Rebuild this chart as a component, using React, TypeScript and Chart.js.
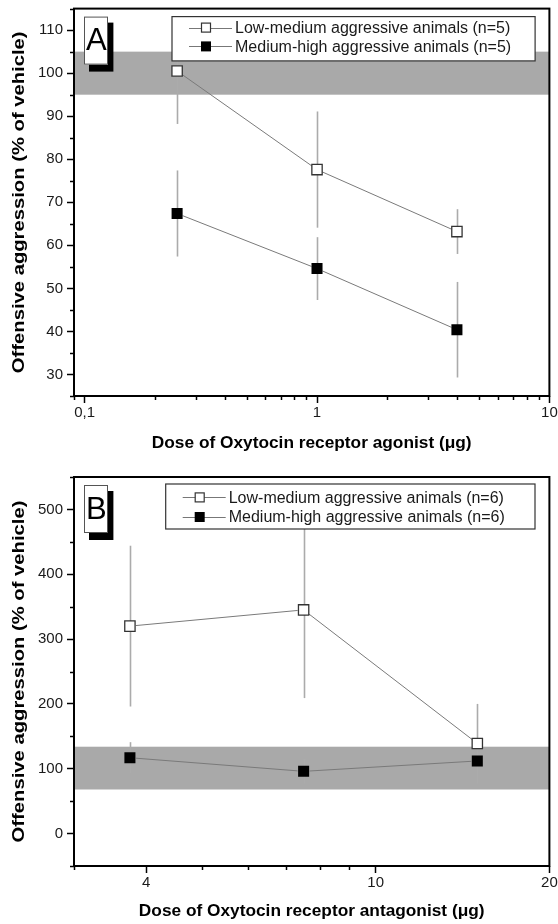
import React, { useEffect, useRef } from "react";
import { Chart, registerables } from "chart.js";

Chart.register(...registerables);

// ---------- Panel A data ----------
const dosesA = [0.25, 1, 4];
const lowMedA = [100.5, 77.6, 63.2];
const lowMedErrA = [12.3, 13.5, 5.2];
const medHighA = [67.4, 54.6, 40.4];
const medHighErrA = [10, 7.3, 11.1];
const bandA = [95, 105];
const xMajorA = [0.1, 1, 10];
const xMinorA = [0.09, 0.2, 0.3, 0.4, 0.5, 0.6, 0.7, 0.8, 0.9, 2, 3, 4, 5, 6, 7, 8, 9];
const yMajorA = [30, 40, 50, 60, 70, 80, 90, 100, 110];
const yMinorA = [25, 35, 45, 55, 65, 75, 85, 95, 105, 115];
const legendA = ["Low-medium aggressive animals (n=5)", "Medium-high aggressive animals (n=5)"];
const xTitleA = "Dose of Oxytocin receptor agonist (\u03bcg)";

// ---------- Panel B data ----------
const dosesB = [3.75, 7.5, 15];
const lowMedB = [320, 345, 139];
const lowMedErrB = [124, 136, 61];
const medHighB = [117, 96, 112];
const medHighErrB = [24, 19, 35];
const bandB = [68, 134];
const xMajorB = [4, 10, 20];
const xMinorB = [3, 5, 6, 7, 8, 9];
const yMajorB = [0, 100, 200, 300, 400, 500];
const yMinorB = [-50, 50, 150, 250, 350, 450, 550];
const legendB = ["Low-medium aggressive animals (n=6)", "Medium-high aggressive animals (n=6)"];
const xTitleB = "Dose of Oxytocin receptor antagonist (\u03bcg)";

const yTitle = "Offensive aggression (% of vehicle)";
const FONT = "'Liberation Sans', Arial, Helvetica, sans-serif";

type Panel = {
  letter: string;
  doses: number[];
  low: number[];
  lowErr: number[];
  high: number[];
  highErr: number[];
  band: number[];
  xMin: number;
  xMax: number;
  yMin: number;
  yMax: number;
  xMajor: number[];
  xMinor: number[];
  yMajor: number[];
  yMinor: number[];
  legend: string[];
  xTitle: string;
  padTop: number;
  padRight: number;
  xAxisH: number;
  xTitlePad: number;
  legendLeft: number;
  legendRight: number;
  legendTop: number;
  legendH: number;
  legendRows: number[];
};

const panelA: Panel = {
  letter: "A",
  doses: dosesA,
  low: lowMedA,
  lowErr: lowMedErrA,
  high: medHighA,
  highErr: medHighErrA,
  band: bandA,
  xMin: 0.09,
  xMax: 10,
  yMin: 25,
  yMax: 115,
  xMajor: xMajorA,
  xMinor: xMinorA,
  yMajor: yMajorA,
  yMinor: yMinorA,
  legend: legendA,
  xTitle: xTitleA,
  padTop: 7,
  padRight: 7,
  xAxisH: 66,
  xTitlePad: 8.5,
  legendLeft: 98,
  legendRight: 14.3,
  legendTop: 8,
  legendH: 44.3,
  legendRows: [11, 29.8],
};

const panelB: Panel = {
  letter: "B",
  doses: dosesB,
  low: lowMedB,
  lowErr: lowMedErrB,
  high: medHighB,
  highErr: medHighErrB,
  band: bandB,
  xMin: 3,
  xMax: 20,
  yMin: -50,
  yMax: 550,
  xMajor: xMajorB,
  xMinor: xMinorB,
  yMajor: yMajorB,
  yMinor: yMinorB,
  legend: legendB,
  xTitle: xTitleB,
  padTop: 15,
  padRight: 6,
  xAxisH: 58,
  xTitlePad: 2.1,
  legendLeft: 91.7,
  legendRight: 14.4,
  legendTop: 7,
  legendH: 45,
  legendRows: [13.4, 33],
};

const GAP = 6;
const segDash = (ctx: any) => {
  const dx = ctx.p1.x - ctx.p0.x;
  const dy = ctx.p1.y - ctx.p0.y;
  const L = Math.hypot(dx, dy);
  return [0, GAP, Math.max(0, L - 2 * GAP), L + 1000 + ctx.p0DataIndex];
};

const zeroPad = (scale: any) => {
  scale.paddingTop = 0;
  scale.paddingBottom = 0;
  scale.paddingLeft = 0;
  scale.paddingRight = 0;
};

function makeConfig(p: Panel): any {
  const panelPlugin = {
    id: "panelDecor" + p.letter,
    beforeDatasetsDraw(chart: any) {
      const { ctx, chartArea } = chart;
      const ys = chart.scales.y;
      const y1 = ys.getPixelForValue(p.band[1]);
      const y0 = ys.getPixelForValue(p.band[0]);
      ctx.save();
      ctx.fillStyle = "#a9a9a9";
      ctx.fillRect(chartArea.left, y1, chartArea.right - chartArea.left, y0 - y1);
      ctx.restore();
    },
    beforeDatasetDraw(chart: any, args: any) {
      if (args.index !== 2) return;
      const { ctx } = chart;
      const xs = chart.scales.x;
      const ys = chart.scales.y;
      ctx.save();
      ctx.strokeStyle = "#ababab";
      ctx.lineWidth = 1.6;
      const series = [
        [p.low, p.lowErr],
        [p.high, p.highErr],
      ];
      for (const [vals, errs] of series) {
        p.doses.forEach((d, i) => {
          const x = Math.round(xs.getPixelForValue(d)) + 0.5;
          ctx.beginPath();
          ctx.moveTo(x, ys.getPixelForValue(vals[i] + errs[i]));
          ctx.lineTo(x, ys.getPixelForValue(vals[i] - errs[i]));
          ctx.stroke();
        });
      }
      ctx.restore();
    },
    afterDraw(chart: any) {
      const { ctx, chartArea } = chart;
      const { left, right, top, bottom } = chartArea;
      const xs = chart.scales.x;
      const ys = chart.scales.y;
      ctx.save();
      // minor ticks
      ctx.strokeStyle = "#000";
      ctx.lineWidth = 1.5;
      for (const v of p.xMinor) {
        const x = Math.round(xs.getPixelForValue(v)) + 0.5;
        ctx.beginPath();
        ctx.moveTo(x, bottom);
        ctx.lineTo(x, bottom + 4);
        ctx.stroke();
      }
      for (const v of p.yMinor) {
        const y = Math.round(ys.getPixelForValue(v)) + 0.5;
        ctx.beginPath();
        ctx.moveTo(left, y);
        ctx.lineTo(left - 4, y);
        ctx.stroke();
      }
      // frame
      ctx.lineWidth = 2;
      ctx.strokeStyle = "#000";
      ctx.strokeRect(left, top, right - left, bottom - top);

      // y-axis title (stretched along its length like the original figure)
      ctx.save();
      ctx.translate(19, (top + bottom) / 2);
      ctx.rotate(-Math.PI / 2);
      ctx.scale(1.19, 1);
      ctx.font = `bold 17px ${FONT}`;
      ctx.fillStyle = "#000";
      ctx.textAlign = "center";
      ctx.textBaseline = "middle";
      ctx.fillText(yTitle, 0, 0);
      ctx.restore();

      // panel letter box with shadow
      const bx = left + 10;
      const by = top + 8;
      ctx.fillStyle = "#000";
      ctx.fillRect(bx + 5, by + 6, 24.4, 49);
      ctx.fillStyle = "#fff";
      ctx.fillRect(bx, by, 24, 48);
      ctx.lineWidth = 1;
      ctx.strokeStyle = "#555";
      ctx.strokeRect(bx + 0.5, by + 0.5, 23, 47);
      ctx.fillStyle = "#000";
      ctx.font = `31px ${FONT}`;
      ctx.textAlign = "center";
      ctx.textBaseline = "middle";
      ctx.fillText(p.letter, bx + 12.3, by + 25);

      // legend
      const lx = left + p.legendLeft;
      const lr = right - p.legendRight;
      const ly = top + p.legendTop;
      ctx.fillStyle = "#fff";
      ctx.fillRect(lx, ly, lr - lx, p.legendH);
      ctx.strokeStyle = "#333";
      ctx.lineWidth = 1.2;
      ctx.strokeRect(lx, ly, lr - lx, p.legendH);
      ctx.font = `16px ${FONT}`;
      ctx.textAlign = "left";
      ctx.textBaseline = "middle";
      p.legend.forEach((label, i) => {
        const ry = ly + p.legendRows[i];
        ctx.strokeStyle = "#777";
        ctx.lineWidth = 1;
        ctx.beginPath();
        ctx.moveTo(lx + 17, Math.round(ry) + 0.5);
        ctx.lineTo(lx + 60, Math.round(ry) + 0.5);
        ctx.stroke();
        const mx = lx + 34;
        if (i === 0) {
          ctx.fillStyle = "#fff";
          ctx.fillRect(mx - 4.5, ry - 4.5, 9, 9);
          ctx.strokeStyle = "#333";
          ctx.lineWidth = 1.2;
          ctx.strokeRect(mx - 4.5, ry - 4.5, 9, 9);
        } else {
          ctx.fillStyle = "#000";
          ctx.fillRect(mx - 5, ry - 5, 10, 10);
        }
        ctx.fillStyle = "#1a1a1a";
        ctx.fillText(label, lx + 63, ry + 1);
      });
      ctx.restore();
    },
  };

  const toPts = (vals: number[]) => p.doses.map((x, i) => ({ x, y: vals[i] }));

  return {
    type: "line",
    data: {
      datasets: [
        {
          label: p.legend[0] + " line",
          data: toPts(p.low),
          borderColor: "#7a7a7a",
          borderWidth: 1,
          pointRadius: 0,
          tension: 0,
          fill: false,
          segment: { borderDash: segDash },
          order: 10,
        },
        {
          label: p.legend[1] + " line",
          data: toPts(p.high),
          borderColor: "#7a7a7a",
          borderWidth: 1,
          pointRadius: 0,
          tension: 0,
          fill: false,
          segment: { borderDash: segDash },
          order: 10,
        },
        {
          label: p.legend[0],
          data: toPts(p.low),
          showLine: false,
          pointStyle: "rect",
          pointRadius: 7.3,
          pointBackgroundColor: "#fff",
          pointBorderColor: "#333",
          pointBorderWidth: 1.3,
          order: 2,
        },
        {
          label: p.legend[1],
          data: toPts(p.high),
          showLine: false,
          pointStyle: "rect",
          pointRadius: 7.8,
          pointBackgroundColor: "#000",
          pointBorderColor: "#000",
          pointBorderWidth: 0,
          order: 1,
        },
      ],
    },
    options: {
      animation: false,
      responsive: false,
      devicePixelRatio: 1,
      layout: { padding: { top: p.padTop, right: p.padRight, left: 0, bottom: 0 } },
      plugins: {
        legend: { display: false },
        tooltip: { enabled: false },
      },
      scales: {
        x: {
          type: "logarithmic",
          min: p.xMin,
          max: p.xMax,
          afterBuildTicks: (scale: any) => {
            scale.ticks = p.xMajor.map((v) => ({ value: v }));
          },
          afterFit: (scale: any) => {
            scale.height = p.xAxisH;
            zeroPad(scale);
          },
          ticks: {
            autoSkip: false,
            maxRotation: 0,
            padding: 1,
            color: "#1a1a1a",
            font: { family: FONT, size: 15 },
            callback: (v: any) => String(v).replace(".", ","),
          },
          grid: {
            display: true,
            drawOnChartArea: false,
            drawTicks: true,
            tickLength: 7,
            tickColor: "#000",
            tickWidth: 1.5,
          },
          border: { display: false },
          title: {
            display: true,
            text: p.xTitle,
            color: "#000",
            font: { family: FONT, size: 17.3, weight: "bold" },
            padding: { top: 0, bottom: p.xTitlePad },
          },
        },
        y: {
          type: "linear",
          min: p.yMin,
          max: p.yMax,
          afterBuildTicks: (scale: any) => {
            scale.ticks = p.yMajor.map((v) => ({ value: v }));
          },
          afterFit: (scale: any) => {
            scale.width = 74;
            zeroPad(scale);
          },
          ticks: {
            autoSkip: false,
            padding: 4,
            color: "#1a1a1a",
            font: { family: FONT, size: 15 },
          },
          grid: {
            display: true,
            drawOnChartArea: false,
            drawTicks: true,
            tickLength: 7,
            tickColor: "#000",
            tickWidth: 1.5,
          },
          border: { display: false },
          title: { display: false },
        },
      },
    },
    plugins: [panelPlugin],
  };
}

export default function App() {
  const refA = useRef<HTMLCanvasElement>(null);
  const refB = useRef<HTMLCanvasElement>(null);

  useEffect(() => {
    document.body.style.margin = "0";
    const a = new Chart(refA.current as HTMLCanvasElement, makeConfig(panelA));
    const b = new Chart(refB.current as HTMLCanvasElement, makeConfig(panelB));
    return () => {
      a.destroy();
      b.destroy();
    };
  }, []);

  return (
    <div style={{ width: 558, height: 924, background: "#fff" }}>
      <canvas ref={refA} width={558} height={462} style={{ display: "block", width: 558, height: 462 }} />
      <canvas ref={refB} width={558} height={462} style={{ display: "block", width: 558, height: 462 }} />
    </div>
  );
}
